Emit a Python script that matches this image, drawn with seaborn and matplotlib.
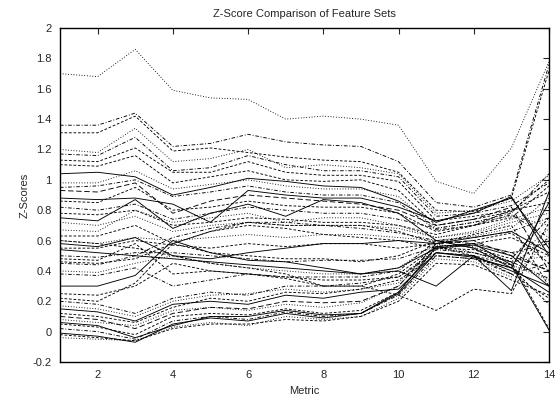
import numpy as np
import pandas as pd
import matplotlib
matplotlib.use("Agg")
import matplotlib.pyplot as plt
import seaborn as sns

metrics = list(range(1, 15))

# z-score per feature set (metric 1..14)
s01 = [1.70, 1.68, 1.86, 1.59, 1.54, 1.53, 1.40, 1.42, 1.40, 1.36, 0.99, 0.91, 1.21, 1.78]
s02 = [1.36, 1.36, 1.44, 1.22, 1.24, 1.30, 1.25, 1.23, 1.22, 1.12, 0.85, 0.82, 0.90, 1.76]
s03 = [1.31, 1.31, 1.42, 1.19, 1.21, 1.18, 1.15, 1.13, 1.12, 1.05, 0.80, 0.79, 0.88, 1.72]
s04 = [1.20, 1.18, 1.34, 1.12, 1.14, 1.20, 1.08, 1.10, 1.08, 1.04, 0.78, 0.80, 0.86, 1.03]
s05 = [1.17, 1.16, 1.28, 1.06, 1.08, 1.16, 1.10, 1.06, 1.06, 1.02, 0.76, 0.78, 0.83, 0.98]
s06 = [1.13, 1.12, 1.21, 1.05, 1.05, 1.12, 1.05, 1.03, 1.03, 0.99, 0.73, 0.76, 0.80, 0.92]
s07 = [1.04, 1.05, 1.02, 0.90, 0.95, 1.01, 0.99, 0.96, 0.95, 0.86, 0.72, 0.80, 0.88, 0.55]
s08 = [1.10, 1.09, 1.16, 0.98, 1.02, 1.06, 1.00, 0.99, 1.00, 0.93, 0.70, 0.74, 0.79, 1.00]
s09 = [0.98, 0.98, 1.06, 0.94, 0.97, 1.00, 0.96, 0.94, 0.94, 0.89, 0.68, 0.72, 0.76, 0.70]
s10 = [0.95, 0.96, 1.00, 0.89, 0.92, 0.96, 0.92, 0.90, 0.90, 0.85, 0.67, 0.70, 0.77, 0.62]
s11 = [0.88, 0.87, 0.88, 0.84, 0.72, 0.93, 0.90, 0.88, 0.88, 0.82, 0.73, 0.78, 0.89, 0.50]
s12 = [0.75, 0.73, 0.87, 0.68, 0.78, 0.84, 0.76, 0.87, 0.85, 0.78, 0.60, 0.55, 0.42, 0.85]
s13 = [0.67, 0.66, 0.80, 0.72, 0.75, 0.78, 0.72, 0.75, 0.75, 0.70, 0.62, 0.65, 0.72, 0.78]
s14 = [0.86, 0.85, 0.95, 0.80, 0.82, 0.86, 0.83, 0.82, 0.82, 0.78, 0.66, 0.70, 0.75, 0.96]
s15 = [0.93, 0.92, 0.98, 0.78, 0.86, 0.90, 0.88, 0.86, 0.84, 0.80, 0.70, 0.74, 0.82, 0.40]
s16 = [0.82, 0.80, 0.84, 0.74, 0.78, 0.82, 0.80, 0.78, 0.78, 0.74, 0.68, 0.72, 0.78, 1.04]
s17 = [0.63, 0.63, 0.70, 0.58, 0.66, 0.72, 0.70, 0.70, 0.70, 0.66, 0.58, 0.64, 0.70, 0.30]
s18 = [0.60, 0.58, 0.62, 0.60, 0.62, 0.64, 0.62, 0.64, 0.64, 0.62, 0.60, 0.63, 0.68, 0.88]
s19 = [0.55, 0.55, 0.60, 0.57, 0.55, 0.58, 0.56, 0.58, 0.58, 0.55, 0.58, 0.60, 0.65, 0.45]
s20 = [0.30, 0.30, 0.37, 0.60, 0.52, 0.47, 0.46, 0.42, 0.38, 0.42, 0.55, 0.57, 0.50, 0.30]
s21 = [0.50, 0.49, 0.52, 0.52, 0.50, 0.48, 0.46, 0.47, 0.47, 0.48, 0.56, 0.58, 0.52, 0.58]
s22 = [0.46, 0.45, 0.48, 0.58, 0.52, 0.50, 0.48, 0.48, 0.46, 0.50, 0.60, 0.55, 0.48, 0.75]
s23 = [0.40, 0.39, 0.45, 0.50, 0.45, 0.42, 0.40, 0.38, 0.38, 0.42, 0.58, 0.52, 0.46, 0.68]
s24 = [0.38, 0.37, 0.42, 0.30, 0.34, 0.38, 0.36, 0.36, 0.36, 0.40, 0.60, 0.58, 0.52, 0.40]
s25 = [0.48, 0.47, 0.58, 0.38, 0.40, 0.38, 0.35, 0.30, 0.30, 0.38, 0.56, 0.50, 0.38, 0.22]
s26 = [0.25, 0.24, 0.30, 0.45, 0.40, 0.38, 0.36, 0.34, 0.34, 0.36, 0.52, 0.50, 0.44, 0.62]
s27 = [0.22, 0.20, 0.32, 0.58, 0.66, 0.70, 0.68, 0.64, 0.62, 0.60, 0.55, 0.58, 0.62, 0.50]
s28 = [0.58, 0.56, 0.62, 0.50, 0.48, 0.52, 0.55, 0.58, 0.58, 0.60, 0.58, 0.62, 0.66, 0.52]
s29 = [0.60, 0.58, 0.55, 0.50, 0.45, 0.42, 0.38, 0.30, 0.30, 0.24, 0.14, 0.28, 0.25, 0.72]
s30 = [0.54, 0.52, 0.50, 0.48, 0.46, 0.44, 0.42, 0.40, 0.38, 0.40, 0.30, 0.50, 0.27, 0.92]
s31 = [0.15, 0.13, 0.07, 0.18, 0.20, 0.18, 0.24, 0.22, 0.26, 0.28, 0.52, 0.50, 0.40, 0.30]
s32 = [-0.01, -0.03, -0.07, 0.05, 0.09, 0.07, 0.12, 0.09, 0.12, 0.25, 0.52, 0.49, 0.42, 0.26]
s33 = [0.08, 0.06, 0.04, 0.14, 0.16, 0.14, 0.18, 0.16, 0.19, 0.30, 0.55, 0.52, 0.44, 0.34]
s34 = [0.05, 0.03, -0.02, 0.10, 0.12, 0.11, 0.15, 0.12, 0.14, 0.26, 0.55, 0.54, 0.46, 0.02]
s35 = [0.02, 0.00, -0.05, 0.07, 0.10, 0.08, 0.13, 0.10, 0.12, 0.24, 0.50, 0.48, 0.38, 0.45]
s36 = [-0.04, -0.05, -0.06, 0.03, 0.06, 0.04, 0.10, 0.08, 0.10, 0.22, 0.48, 0.46, 0.36, 0.60]
s37 = [0.12, 0.10, 0.06, 0.16, 0.22, 0.20, 0.26, 0.25, 0.28, 0.34, 0.50, 0.48, 0.42, 0.18]
s38 = [0.06, 0.04, -0.04, 0.04, 0.10, 0.10, 0.14, 0.11, 0.12, 0.26, 0.56, 0.58, 0.44, 0.01]
s39 = [0.20, 0.18, 0.12, 0.22, 0.26, 0.24, 0.30, 0.30, 0.32, 0.36, 0.54, 0.52, 0.46, 0.35]
s40 = [0.17, 0.15, 0.10, 0.20, 0.24, 0.25, 0.28, 0.26, 0.28, 0.32, 0.57, 0.56, 0.46, 0.50]
s41 = [-0.02, -0.04, -0.06, 0.02, 0.05, 0.05, 0.08, 0.07, 0.10, 0.20, 0.45, 0.44, 0.34, 0.24]
s42 = [0.10, 0.08, 0.02, 0.12, 0.16, 0.15, 0.20, 0.19, 0.20, 0.30, 0.58, 0.60, 0.50, 0.40]
s43 = [0.78, 0.77, 0.80, 0.70, 0.72, 0.75, 0.74, 0.72, 0.72, 0.70, 0.64, 0.70, 0.80, 0.85]
s44 = [0.72, 0.70, 0.76, 0.66, 0.70, 0.72, 0.70, 0.70, 0.70, 0.68, 0.62, 0.66, 0.74, 0.82]
s45 = [0.45, 0.44, 0.50, 0.62, 0.68, 0.72, 0.72, 0.70, 0.68, 0.65, 0.60, 0.62, 0.66, 0.75]

series = [s01, s02, s03, s04, s05, s06, s07, s08, s09, s10, s11, s12, s13, s14, s15,
          s16, s17, s18, s19, s20, s21, s22, s23, s24, s25, s26, s27, s28, s29, s30,
          s31, s32, s33, s34, s35, s36, s37, s38, s39, s40, s41, s42, s43, s44, s45]

# line type of each set, gnuplot style
kinds = ["dot", "dashdot", "dash", "dot", "dashdot", "dash", "solid", "dash", "dot", "dashdot",
         "solid", "solid", "dot", "dash", "long", "dashdot", "dash", "dot", "dash", "solid",
         "dashdot", "dash", "dot", "dashdot", "dash", "dash", "dash", "solid", "dash", "solid",
         "solid", "solid", "dot", "dash", "dashdot", "dot", "dash", "solid", "dashdot", "dot",
         "dash", "long", "dash", "dot", "dashdot"]
patterns = {"solid": "", "dash": (3, 2), "dot": (1, 2), "dashdot": (4, 2, 1, 2),
            "long": (6, 3)}

rows = []
for i, vals in enumerate(series):
    for m, v in zip(metrics, vals):
        rows.append({"metric": m, "zscore": v, "set": f"set{i+1}"})
df = pd.DataFrame(rows)
names = [f"set{i+1}" for i in range(len(series))]

sns.set_style("white")
plt.rcParams['font.family'] = ['Liberation Sans', 'DejaVu Sans']

fig = plt.figure(figsize=(5.57, 4.01), dpi=100)
ax = fig.add_axes([0.1077, 0.0973, 0.8779, 0.8327])

sns.lineplot(data=df, x="metric", y="zscore", hue="set", style="set",
             hue_order=names, style_order=names,
             palette={n: "black" for n in names},
             dashes={n: patterns[k] for n, k in zip(names, kinds)},
             linewidth=0.65, legend=False, ax=ax)

ax.set_xlim(1, 14)
ax.set_ylim(-0.2, 2)
ax.set_xticks(range(2, 15, 2))
yt = np.round(np.arange(-0.2, 2.01, 0.2), 1)
ax.set_yticks(yt)
ax.set_yticklabels([f"{t:g}" for t in yt])
ax.tick_params(direction="in", top=True, right=True, length=4, width=0.8,
               labelsize=8, pad=6)
for sp in ax.spines.values():
    sp.set_linewidth(1.0)
    sp.set_color("black")
ax.set_title("Z-Score Comparison of Feature Sets", fontsize=8, pad=8)
ax.set_xlabel("Metric", fontsize=8, labelpad=4)
ax.set_ylabel("Z-Scores", fontsize=8, labelpad=2)

fig.savefig("out.png", dpi=100)
